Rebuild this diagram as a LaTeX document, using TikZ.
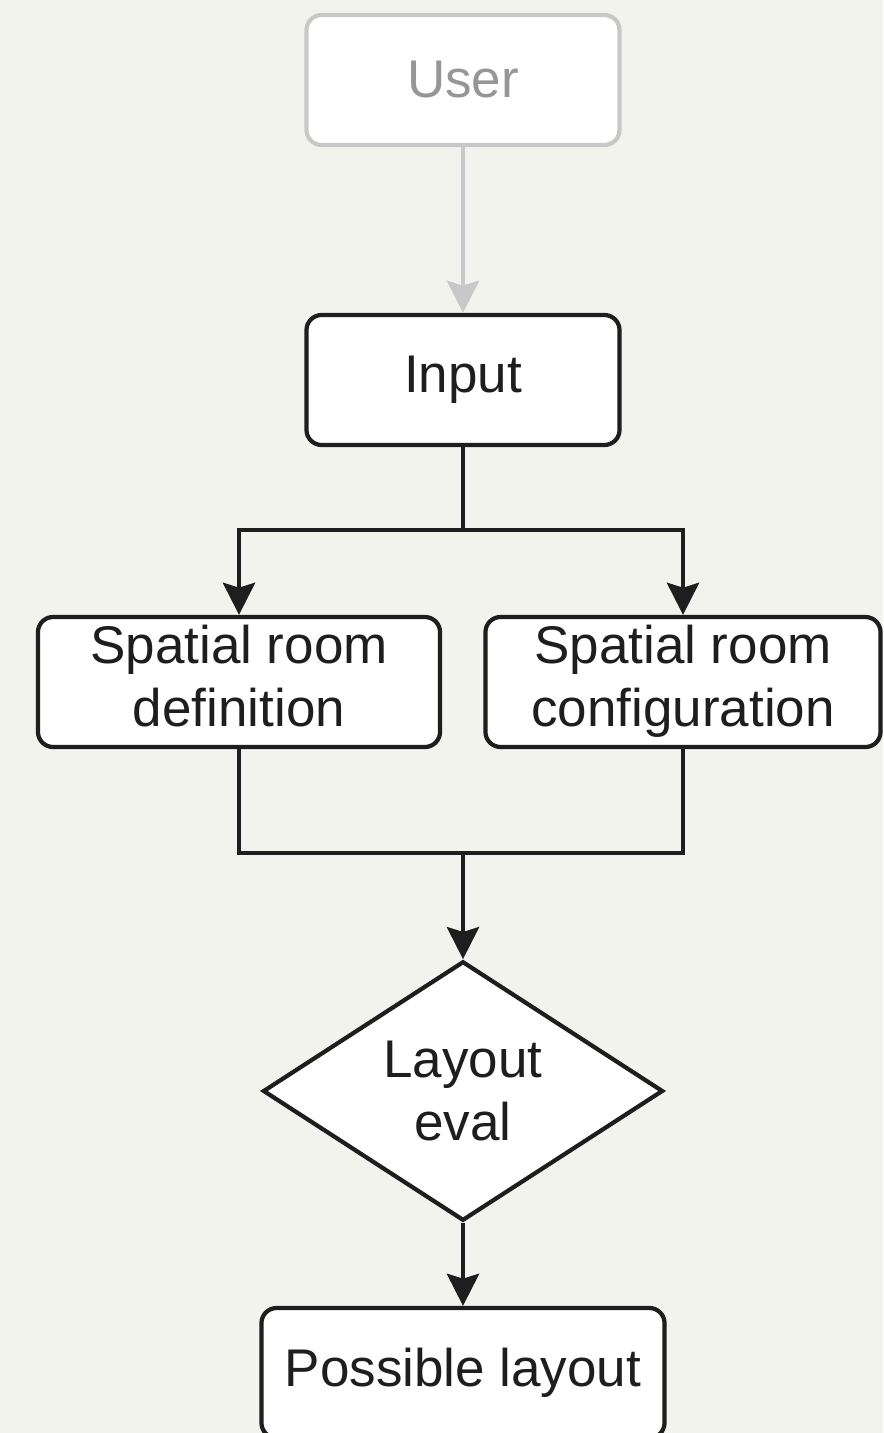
\documentclass[tikz,border=0pt]{standalone}
\usepackage{fontspec}
\setmainfont{Liberation Sans}
\usepackage{xcolor}
\usepackage{tikz}
\usetikzlibrary{shapes.geometric,arrows.meta}
\definecolor{paper}{RGB}{243,243,238}
\definecolor{ink}{RGB}{30,30,30}
\definecolor{faded}{RGB}{200,200,200}
\definecolor{fadedtext}{RGB}{150,150,150}
\def\boxfont{\fontsize{37.7pt}{45pt}\selectfont}
\tikzstyle{everynode}=[font=\boxfont,text=ink,align=center,fill=white,line width=3pt,inner sep=0pt]
\tikzstyle{block}=[everynode,draw=ink,rectangle,rounded corners=0.38cm,minimum height=3.25cm]
\tikzstyle{ghost}=[block,draw=faded,text=fadedtext]
\tikzstyle{check}=[everynode,draw=ink,diamond,minimum width=10cm,minimum height=6.45cm]
\tikzstyle{flow}=[draw=ink,line width=3.4pt,-{Stealth[length=0.8cm,width=0.8cm,inset=0.12cm]}]
\tikzstyle{flowline}=[draw=ink,line width=3.4pt]
\tikzstyle{ghostflow}=[flow,draw=faded,fill=faded]

\begin{document}
\begin{tikzpicture}[x=0.025cm,y=-0.025cm]
    \fill[paper] (0,0) rectangle (883,1433);
    \useasboundingbox (0,0) rectangle (883,1433);
    \node[ghost,minimum width=7.825cm] (user) at (463,80) {User};
    \node[block,minimum width=7.825cm] (input) at (463,380) {Input};
    \node[block,minimum width=10.05cm] (def) at (239,682) {Spatial room\strut\\definition\strut};
    \node[block,minimum width=9.875cm] (conf) at (683,682) {Spatial room\strut\\configuration\strut};
    \node[check] (eval) at (463,1091) {Layout\\eval};
    \node[block,minimum width=10.075cm] (result) at (463,1373) {Possible layout};
    \coordinate (split) at (463,530);
    \coordinate (join) at (463,853);
    \draw[ghostflow] (user) -- (input);
    \draw[flowline] (input) -- (split);
    \draw[flow] (split) -| (def);
    \draw[flow] (split) -| (conf);
    \draw[flowline] (def) |- (join);
    \draw[flowline] (conf) |- (join);
    \draw[flow] (join) -- (eval);
    \draw[flow] (eval) -- (result);
  \end{tikzpicture}
\end{document}
